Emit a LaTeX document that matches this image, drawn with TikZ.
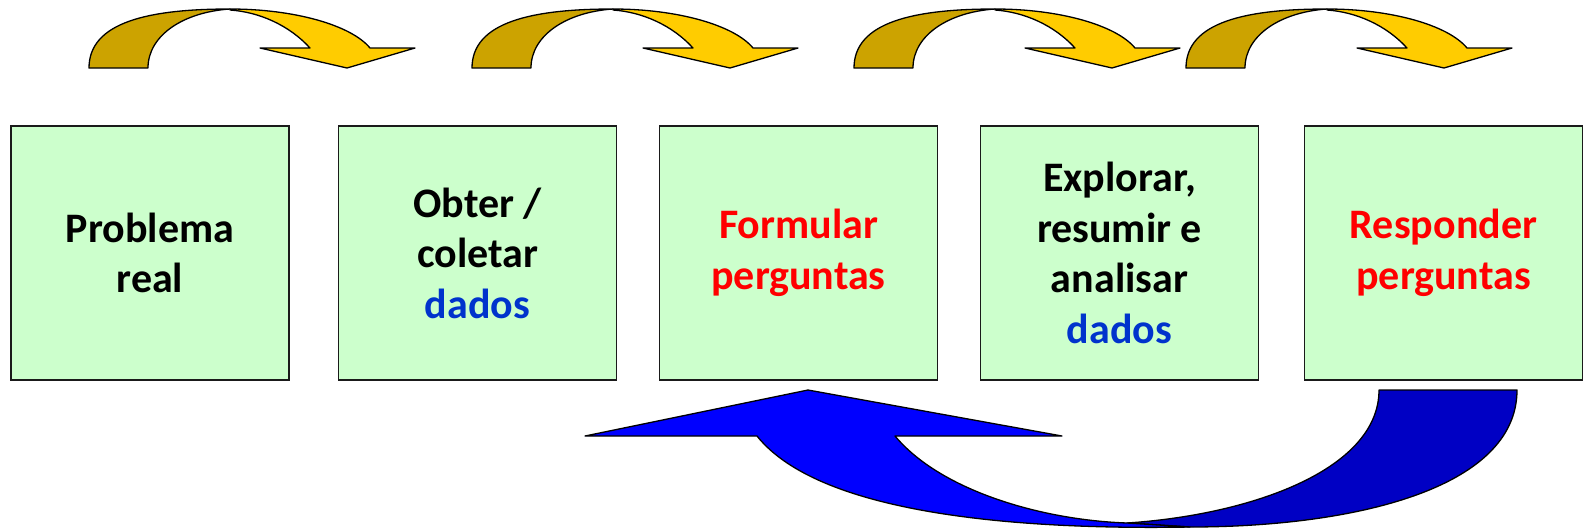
\documentclass[tikz,border=0pt]{standalone}
\usepackage{fontspec}
\setmainfont{Carlito}
\definecolor{boxfill}{HTML}{CCFFCC}
\definecolor{boxline}{HTML}{1A1A1A}
\definecolor{txtred}{HTML}{FF0000}
\definecolor{txtblue}{HTML}{0033CC}
\definecolor{golddark}{HTML}{CCA300}
\definecolor{goldlight}{HTML}{FFCC00}
\definecolor{bluefront}{HTML}{0000FF}
\definecolor{blueback}{HTML}{0000C4}
\tikzset{
  stepbox/.style={draw=boxline, line width=1.6pt, fill=boxfill, minimum width=278pt, minimum height=254pt,
    align=center, font=\fontsize{42}{50.5}\selectfont\bfseries, inner sep=0pt},
  arrowline/.style={draw=black, line width=1.3pt, line join=round},
  toparrow/.pic={
    \path[arrowline, fill=golddark] (0,68) .. controls (0,22) and (60,9) .. (141,9)
       .. controls (95,12) and (59,35) .. (59,68) -- cycle;
    \path[arrowline, fill=goldlight] (141,9) .. controls (205,9) and (262,25) .. (281,48)
       -- (326,48) -- (258,68) -- (171,48) -- (221,48)
       .. controls (200,25) and (170,12) .. (141,10) -- cycle;
  }
}
\begin{document}
\begin{tikzpicture}[x=1pt,y=-1pt]
\useasboundingbox (0,0) rectangle (1583,528);
% boxes
\node[stepbox] (b1) at (150,253) {Problema\\real};
\node[stepbox] (b2) at (477.5,253) {Obter /\\coletar\\\textcolor{txtblue}{dados}};
\node[stepbox, text=txtred] (b3) at (798.5,253) {Formular\\perguntas};
\node[stepbox] (b4) at (1119.5,253) {Explorar,\\resumir e\\analisar\\\textcolor{txtblue}{dados}};
\node[stepbox, text=txtred] (b5) at (1443.5,253) {Responder\\perguntas};
% top curved arrows
\pic at (89,0) {toparrow};
\pic at (472,0) {toparrow};
\pic at (854,0) {toparrow};
\pic at (1186,0) {toparrow};
% bottom return arrow
\coordinate (rtl) at (1379,390);
\coordinate (rtr) at (1517,390);
\coordinate (apex) at (808,390);
\path[arrowline, fill=blueback] (rtl) -- (rtr) .. controls (1517,490) and (1350,527) .. (1190,527)
   -- (1127,523) .. controls (1250,515) and (1379,470) .. (rtl) -- cycle;
\path[arrowline, fill=bluefront] (apex) -- (1062,436) -- (895,436)
   .. controls (940,490) and (1040,520) .. (1127,523) -- (1190,527)
   .. controls (1020,530) and (820,515) .. (757,436) -- (585,436) -- cycle;
\end{tikzpicture}
\end{document}
